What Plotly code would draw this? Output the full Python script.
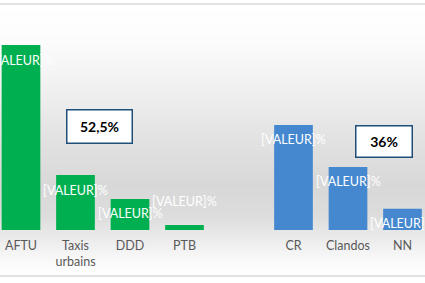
import plotly.graph_objects as go

# Data
categories = ["AFTU", "Taxis<br>urbains", "DDD", "PTB", "", "CR", "Clandos", "NN"]
green_cats = ["AFTU", "Taxis<br>urbains", "DDD", "PTB"]
green_vals = [52.5, 15.6, 8.8, 1.4]
blue_cats = ["CR", "Clandos", "NN"]
blue_vals = [29.8, 17.9, 6.0]
value_label = "[VALEUR]%"
box_labels = ["52,5%", "36%"]

W, H = 425, 283
BASE = 230  # pixel y of baseline
FONT = "Lato, 'Open Sans', sans-serif"

pos = {c: i for i, c in enumerate(categories)}
gx = [pos[c] for c in green_cats]
bx = [pos[c] for c in blue_cats]

fig = go.Figure()
fig.add_trace(go.Bar(x=gx, y=green_vals, marker=dict(color="#00b050", line=dict(width=0)),
                     width=0.71, hoverinfo="skip"))
fig.add_trace(go.Bar(x=bx, y=blue_vals, marker=dict(color="#4588cf", line=dict(width=0)),
                     width=0.71, hoverinfo="skip"))

# data labels
annotations = []
for xs, vs in ((gx, green_vals), (bx, blue_vals)):
    for x, v in zip(xs, vs):
        small = v < 3
        annotations.append(dict(x=x, y=v, xref="x", yref="y", text=value_label,
                                showarrow=False, yshift=24 if small else -15,
                                xanchor="center", yanchor="middle",
                                font=dict(family=FONT, size=12.5, color="white")))

# boxes
def px2paper_x(px):
    return px / W

def px2paper_y(py):
    return (BASE - py) / BASE

annotations.append(dict(x=px2paper_x(99.5), y=px2paper_y(126.5), xref="paper", yref="paper",
                        xanchor="center", yanchor="middle",
                        text="<b>" + box_labels[0] + "</b>", showarrow=False,
                        width=62, height=30, bgcolor="white", bordercolor="#1f4e79",
                        borderwidth=1.5, font=dict(family=FONT, size=14, color="black")))
annotations.append(dict(x=px2paper_x(384), y=px2paper_y(141.5), xref="paper", yref="paper",
                        xanchor="center", yanchor="middle",
                        text="<b>" + box_labels[1] + "</b>", showarrow=False,
                        width=53, height=28, bgcolor="white", bordercolor="#1f4e79",
                        borderwidth=1.5, font=dict(family=FONT, size=14, color="black")))

# background gradient (pixel stops -> gray level)
stops = [(5, 255), (40, 252), (90, 240), (140, 226), (185, 216), (215, 220), (240, 236), (262, 250), (276, 255)]
shapes = []
def level(py):
    for (a, la), (b, lb) in zip(stops, stops[1:]):
        if a <= py <= b:
            return la + (lb - la) * (py - a) / (b - a)
    return 255
py = 5
while py < 276:
    l = int(round(level(py + 1)))
    shapes.append(dict(type="rect", xref="paper", yref="paper", x0=0, x1=1,
                       y0=px2paper_y(py + 2), y1=px2paper_y(py), layer="below",
                       line=dict(width=0), fillcolor=f"rgb({l},{l},{l})"))
    py += 2
for ly in (4, 276):
    shapes.append(dict(type="line", xref="paper", yref="paper", x0=0, x1=1,
                       y0=px2paper_y(ly), y1=px2paper_y(ly),
                       line=dict(color="#d9d9d9", width=1.5), layer="above"))

ymax = green_vals[0] * BASE / (BASE - 45)
fig.update_layout(
    width=W, height=H, margin=dict(l=0, r=0, t=0, b=H - BASE),
    paper_bgcolor="white", plot_bgcolor="rgba(0,0,0,0)",
    showlegend=False, barmode="overlay",
    annotations=annotations, shapes=shapes,
    xaxis=dict(range=[-21 / 54.5, (W - 21) / 54.5], tickmode="array",
               tickvals=list(range(len(categories))), ticktext=categories,
               showgrid=False, zeroline=False, showline=False, ticks="",
               ticklabelstandoff=6,
               tickfont=dict(family=FONT, size=12.5, color="#595959")),
    yaxis=dict(range=[0, ymax], visible=False, showgrid=False, zeroline=False),
)

fig.write_html("out.html")
